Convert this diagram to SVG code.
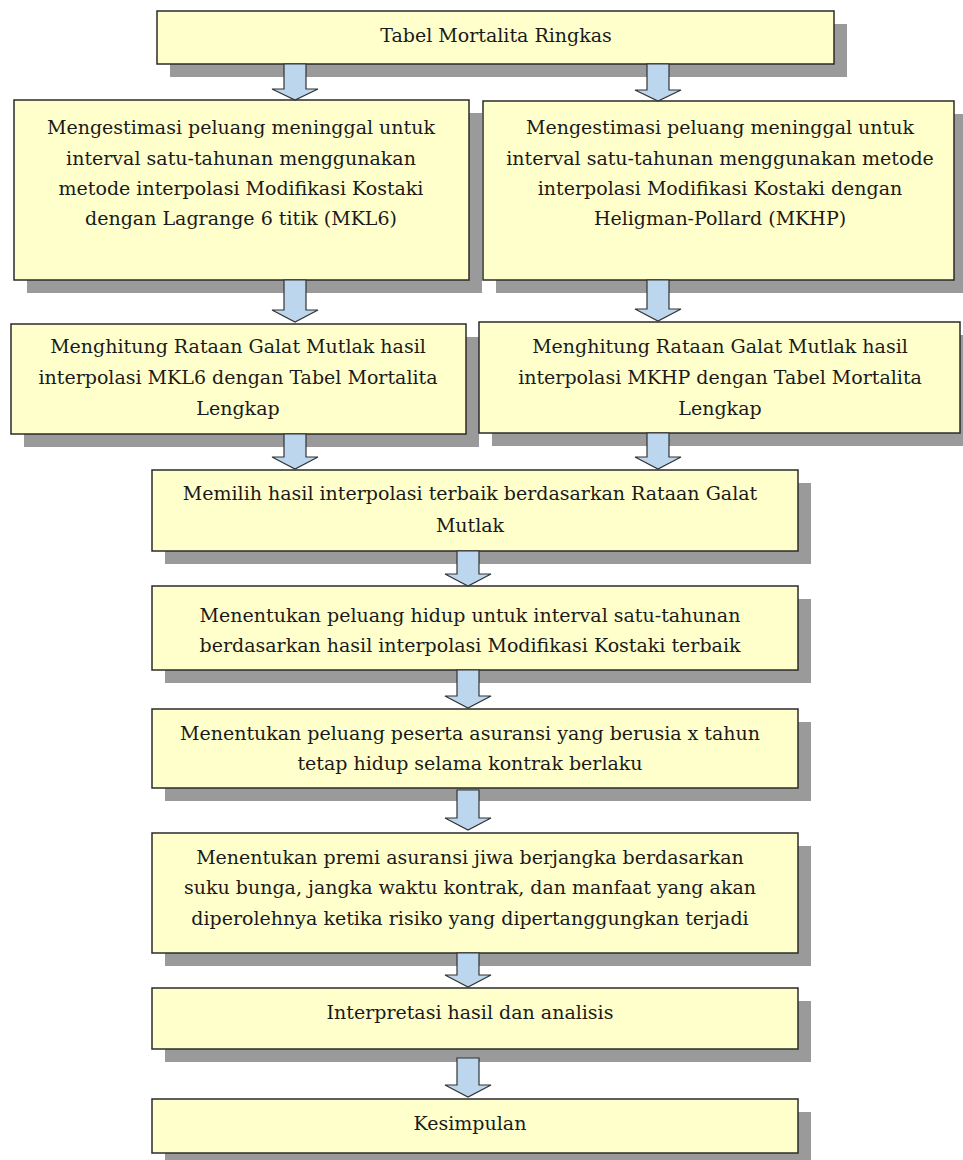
<svg xmlns="http://www.w3.org/2000/svg" width="963" height="1160" viewBox="0 0 963 1160">
<style>
.shadow{fill:#9a9a9a}
.box{fill:#ffffcc;stroke:#2b2b2b;stroke-width:1.5}
.t{font-family:"DejaVu Serif","Liberation Serif",serif;font-size:19px;fill:#1a1a1a;text-anchor:middle}
.arrow{fill:#bcd6ee;stroke:#333;stroke-width:1.2;stroke-linejoin:miter}
</style>
<rect width="963" height="1160" fill="#ffffff"/>
<g id="n1">
<rect class="shadow" x="170" y="24" width="677" height="53"/>
<rect class="box" x="157" y="11" width="677" height="53"/>
<text class="t" x="496" y="42">Tabel Mortalita Ringkas</text>
</g>
<g id="n2l">
<rect class="shadow" x="27" y="113" width="455" height="180"/>
<rect class="box" x="14" y="100" width="455" height="180"/>
<text class="t" x="241" y="134">Mengestimasi peluang meninggal untuk</text>
<text class="t" x="241" y="165">interval satu-tahunan menggunakan</text>
<text class="t" x="241" y="195">metode interpolasi Modifikasi Kostaki</text>
<text class="t" x="241" y="225">dengan Lagrange 6 titik (MKL6)</text>
</g>
<g id="n2r">
<rect class="shadow" x="496" y="114" width="471" height="179"/>
<rect class="box" x="483" y="101" width="471" height="179"/>
<text class="t" x="720" y="134">Mengestimasi peluang meninggal untuk</text>
<text class="t" x="720" y="165">interval satu-tahunan menggunakan metode</text>
<text class="t" x="720" y="195">interpolasi Modifikasi Kostaki dengan</text>
<text class="t" x="720" y="225">Heligman-Pollard (MKHP)</text>
</g>
<g id="n3l">
<rect class="shadow" x="24" y="337" width="455" height="110"/>
<rect class="box" x="11" y="324" width="455" height="110"/>
<text class="t" x="238" y="353">Menghitung Rataan Galat Mutlak hasil</text>
<text class="t" x="238" y="384">interpolasi MKL6 dengan Tabel Mortalita</text>
<text class="t" x="238" y="415">Lengkap</text>
</g>
<g id="n3r">
<rect class="shadow" x="492" y="335" width="481" height="111"/>
<rect class="box" x="479" y="322" width="481" height="111"/>
<text class="t" x="720" y="353">Menghitung Rataan Galat Mutlak hasil</text>
<text class="t" x="720" y="384">interpolasi MKHP dengan Tabel Mortalita</text>
<text class="t" x="720" y="415">Lengkap</text>
</g>
<g id="n4">
<rect class="shadow" x="165" y="483" width="646" height="81"/>
<rect class="box" x="152" y="470" width="646" height="81"/>
<text class="t" x="470" y="500">Memilih hasil interpolasi terbaik berdasarkan Rataan Galat</text>
<text class="t" x="470" y="532">Mutlak</text>
</g>
<g id="n5">
<rect class="shadow" x="165" y="599" width="646" height="84"/>
<rect class="box" x="152" y="586" width="646" height="84"/>
<text class="t" x="470" y="622">Menentukan peluang hidup untuk interval satu-tahunan</text>
<text class="t" x="470" y="652">berdasarkan hasil interpolasi Modifikasi Kostaki terbaik</text>
</g>
<g id="n6">
<rect class="shadow" x="165" y="722" width="646" height="79"/>
<rect class="box" x="152" y="709" width="646" height="79"/>
<text class="t" x="470" y="740">Menentukan peluang peserta asuransi yang berusia x tahun</text>
<text class="t" x="470" y="770">tetap hidup selama kontrak berlaku</text>
</g>
<g id="n7">
<rect class="shadow" x="165" y="846" width="646" height="120"/>
<rect class="box" x="152" y="833" width="646" height="120"/>
<text class="t" x="470" y="864">Menentukan premi asuransi jiwa berjangka berdasarkan</text>
<text class="t" x="470" y="894">suku bunga, jangka waktu kontrak, dan manfaat yang akan</text>
<text class="t" x="470" y="925">diperolehnya ketika risiko yang dipertanggungkan terjadi</text>
</g>
<g id="n8">
<rect class="shadow" x="165" y="1001" width="646" height="61"/>
<rect class="box" x="152" y="988" width="646" height="61"/>
<text class="t" x="470" y="1019">Interpretasi hasil dan analisis</text>
</g>
<g id="n9">
<rect class="shadow" x="165" y="1112" width="646" height="54"/>
<rect class="box" x="152" y="1099" width="646" height="54"/>
<text class="t" x="470" y="1130">Kesimpulan</text>
</g>
<g id="connectors">
<path class="arrow" d="M284,64 H306 V89 H318 L295,100 L272,89 H284 Z"/>
<path class="arrow" d="M647,64 H669 V90 H681 L658,101 L635,90 H647 Z"/>
<path class="arrow" d="M284,280 H306 V310 H318 L295,322 L272,310 H284 Z"/>
<path class="arrow" d="M647,280 H669 V309 H681 L658,321 L635,309 H647 Z"/>
<path class="arrow" d="M284,434 H306 V457 H318 L295,469 L272,457 H284 Z"/>
<path class="arrow" d="M647,433 H669 V457 H681 L658,469 L635,457 H647 Z"/>
<path class="arrow" d="M457,551 H479 V574 H491 L468,586 L445,574 H457 Z"/>
<path class="arrow" d="M457,670 H479 V696 H491 L468,708 L445,696 H457 Z"/>
<path class="arrow" d="M457,790 H479 V818 H491 L468,830 L445,818 H457 Z"/>
<path class="arrow" d="M457,953 H479 V975 H491 L468,987 L445,975 H457 Z"/>
<path class="arrow" d="M457,1058 H479 V1085 H491 L468,1097 L445,1085 H457 Z"/>
</g>
</svg>
